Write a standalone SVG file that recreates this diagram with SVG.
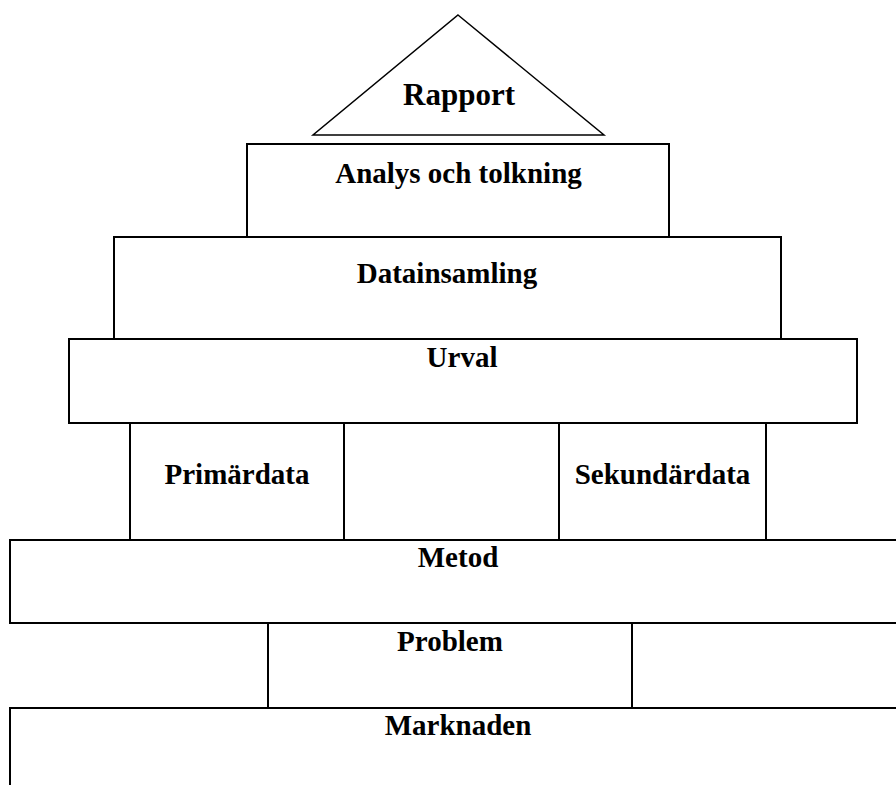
<svg xmlns="http://www.w3.org/2000/svg" width="896" height="785" viewBox="0 0 896 785">
<style>
.box{fill:#fff;stroke:#000;stroke-width:2}
.ln{stroke:#000;stroke-width:2;fill:none}
.tri{fill:#fff;stroke:#000;stroke-width:1.5}
.t{font-family:"Liberation Serif","Times New Roman",serif;font-weight:bold;font-size:29px;text-anchor:middle;fill:#000}
</style>
<rect x="0" y="0" width="896" height="785" fill="#fff"/>
<g id="rapport">
<polygon class="tri" points="458,15 604,135 313,135"/>
<text class="t" x="459" y="105" style="font-size:31px">Rapport</text>
</g>
<g id="analys">
<rect class="box" x="247" y="144" width="422" height="93"/>
<text class="t" x="458.5" y="183">Analys och tolkning</text>
</g>
<g id="datainsamling">
<rect class="box" x="114" y="237" width="667" height="102"/>
<text class="t" x="447" y="283">Datainsamling</text>
</g>
<g id="urval">
<rect class="box" x="69" y="339" width="788" height="84"/>
<text class="t" x="462" y="367">Urval</text>
</g>
<g id="primardata">
<rect class="box" x="130" y="423" width="214" height="117"/>
<text class="t" x="237" y="484">Primärdata</text>
</g>
<g id="mellan">
<rect class="box" x="344" y="423" width="215" height="117"/>
</g>
<g id="sekundardata">
<rect class="box" x="559" y="423" width="207" height="117"/>
<text class="t" x="662.5" y="484">Sekundärdata</text>
</g>
<g id="metod">
<rect class="box" x="10" y="540" width="900" height="83"/>
<text class="t" x="458" y="567">Metod</text>
</g>
<g id="problem">
<rect class="box" x="268" y="623" width="364" height="85"/>
<text class="t" x="450" y="651">Problem</text>
</g>
<g id="marknaden">
<rect class="box" x="10" y="708" width="900" height="100"/>
<text class="t" x="458" y="735">Marknaden</text>
</g>
<g id="connectors"></g>
</svg>
